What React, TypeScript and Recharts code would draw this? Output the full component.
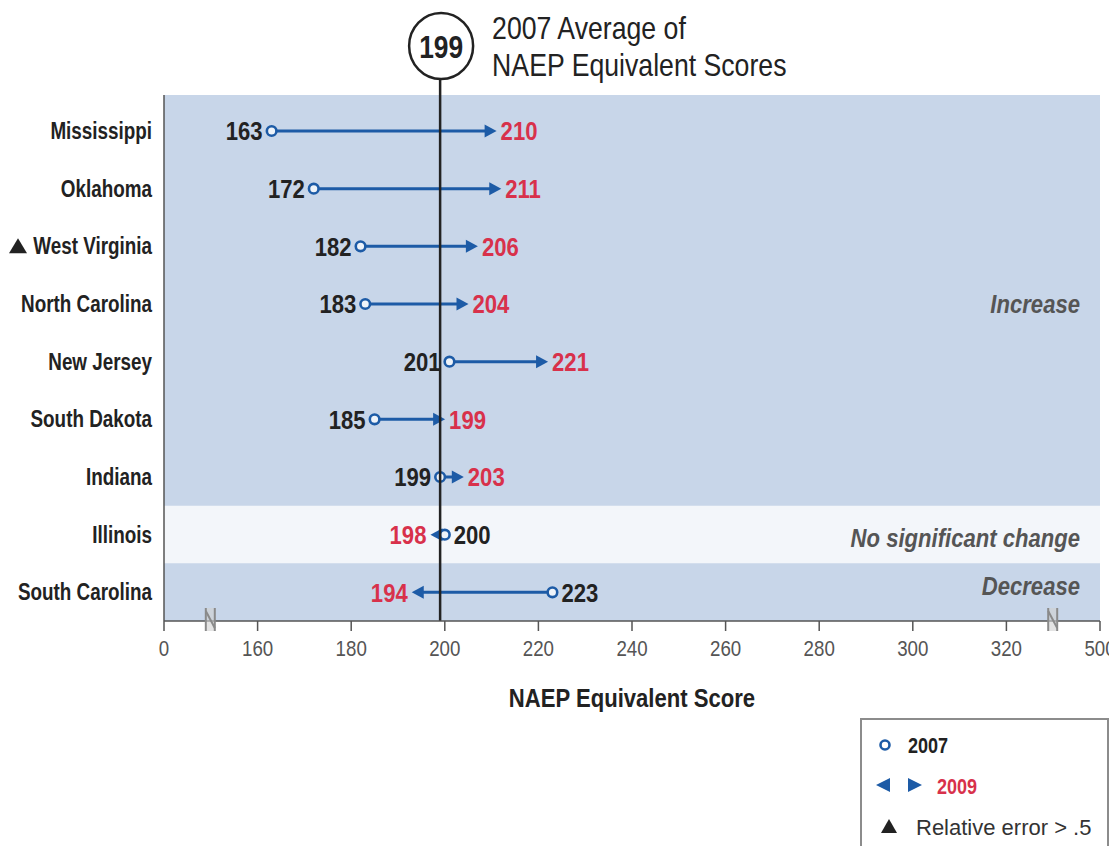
import React from 'react';
import {
  ComposedChart, Bar, XAxis, YAxis, CartesianGrid, ReferenceLine, ReferenceArea,
} from 'recharts';

const states = ['Mississippi', 'Oklahoma', 'West Virginia', 'North Carolina', 'New Jersey', 'South Dakota', 'Indiana', 'Illinois', 'South Carolina'];
const scores2007 = [163, 172, 182, 183, 201, 185, 199, 200, 223];
const scores2009 = [210, 211, 206, 204, 221, 199, 203, 198, 194];
const relErrorFlag = [false, false, true, false, false, false, false, false, false];
const avg2007 = 199;
const xTicks = [140, 150, 160, 180, 200, 220, 240, 260, 280, 300, 320, 330, 340];
const tickLabels: Record<number, string> = { 140: '0', 160: '160', 180: '180', 200: '200', 220: '220', 240: '240', 260: '260', 280: '280', 300: '300', 320: '320', 340: '500' };
const breakTicks = [150, 330];

const data = states.map((s, i) => ({
  state: s,
  y2007: scores2007[i],
  y2009: scores2009[i],
  flag: relErrorFlag[i],
  range: [Math.min(scores2007[i], scores2009[i]), Math.max(scores2007[i], scores2009[i])],
}));

const FONT = "'Liberation Sans', Arial, sans-serif";
const BLUE = '#1d5ba6';
const RED = '#d8314b';
const DARK = '#222222';
const GRAY = '#555555';
const BAND = '#c8d6e9';
const LIGHT = '#f3f6fa';

// Condensed text: horizontally squeezed to mimic a narrow typeface
const NText = ({ x, y, anchor = 'start', size, bold = false, italic = false, fill, sx = 0.85, children }: any) => (
  <text
    transform={`translate(${x},${y}) scale(${sx},1)`}
    x={0}
    y={0}
    dy="0.36em"
    textAnchor={anchor}
    fontFamily={FONT}
    fontWeight={bold ? 'bold' : 'normal'}
    fontStyle={italic ? 'italic' : 'normal'}
    fontSize={size}
    fill={fill}
  >
    {children}
  </text>
);

const ArrowShape = (props: any) => {
  const { x, y, width, height, payload } = props;
  const cy = y + height / 2;
  const inc = payload.y2009 >= payload.y2007;
  const dir = inc ? 1 : -1;
  const x07 = inc ? x : x + width;
  const x09 = inc ? x + width : x;
  const tip = x09 + dir * 5;
  const headLen = 12;
  const base = tip - dir * headLen;
  return (
    <g>
      <line x1={x07 + dir * 5} y1={cy} x2={base + dir * 1} y2={cy} stroke={BLUE} strokeWidth={3} />
      <polygon points={`${tip},${cy} ${base},${cy - 6.5} ${base},${cy + 6.5}`} fill={BLUE} />
      <circle cx={x07} cy={cy} r={4.8} fill="#eef3f9" stroke={BLUE} strokeWidth={2.6} />
      <NText x={x07 - dir * 9} y={cy} anchor={inc ? 'end' : 'start'} size={26} bold fill={DARK}>{payload.y2007}</NText>
      <NText x={tip + dir * 4} y={cy} anchor={inc ? 'start' : 'end'} size={26} bold fill={RED}>{payload.y2009}</NText>
    </g>
  );
};

const YTick = (props: any) => {
  const { x, y, payload } = props;
  const flagged = relErrorFlag[states.indexOf(payload.value)];
  return (
    <g>
      {flagged && (
        <polygon points={`${1},${y + 7} ${10},${y - 8} ${19},${y + 7}`} fill={DARK} />
      )}
      <NText x={x} y={y} anchor="end" size={23} bold fill={DARK} sx={0.82}>{payload.value}</NText>
    </g>
  );
};

const XTick = (props: any) => {
  const { x, y, payload } = props;
  const v = payload.value;
  if (breakTicks.includes(v)) {
    return (
      <g stroke="#8a8a8a" strokeWidth={2} fill="none">
        <rect x={x - 5} y={y - 13} width={9} height={23} fill="#d0d0d0" stroke="none" opacity={0.6} />
        <line x1={x - 5} y1={y - 13} x2={x - 5} y2={y + 10} />
        <line x1={x + 4} y1={y - 13} x2={x + 4} y2={y + 10} />
        <line x1={x - 5} y1={y - 10} x2={x + 4} y2={y + 7} />
      </g>
    );
  }
  return (
    <g>
      <line x1={x} y1={y} x2={x} y2={y + 10} stroke={GRAY} strokeWidth={1.5} />
      <NText x={x} y={y + 27} anchor="middle" size={22} fill={GRAY}>{tickLabels[v]}</NText>
    </g>
  );
};

const AvgLabel = (props: any) => {
  const { viewBox } = props;
  const cx = viewBox.x;
  const top = viewBox.y;
  const cyc = top - 49;
  return (
    <g>
      <line x1={cx} y1={cyc + 33} x2={cx} y2={top} stroke={DARK} strokeWidth={2.5} />
      <ellipse cx={cx + 1} cy={cyc} rx={32} ry={33} fill="#ffffff" stroke={DARK} strokeWidth={2.5} />
      <NText x={cx + 1} y={cyc + 1} anchor="middle" size={31} bold fill={DARK}>{avg2007}</NText>
      <NText x={cx + 52} y={cyc - 18} size={31} fill={DARK} sx={0.86}>2007 Average of</NText>
      <NText x={cx + 52} y={cyc + 19} size={31} fill={DARK} sx={0.86}>NAEP Equivalent Scores</NText>
    </g>
  );
};

const bandLabel = (text: string, dyShift: number) => (props: any) => {
  const { viewBox } = props;
  return (
    <NText x={viewBox.x + viewBox.width - 20} y={viewBox.y + viewBox.height / 2 + dyShift} anchor="end"
      size={26} bold italic fill={GRAY}>{text}</NText>
  );
};

const AxisTitle = (props: any) => {
  const { viewBox } = props;
  return (
    <NText x={viewBox.x + viewBox.width / 2} y={viewBox.y + 77} anchor="middle" size={26} bold fill={DARK}>
      NAEP Equivalent Score
    </NText>
  );
};

const LegendBox = () => (
  <div style={{
    position: 'absolute', left: 852, top: 710, width: 249, height: 150,
    border: '2px solid #8c8c8c', background: '#fff', boxSizing: 'border-box',
  }}>
    <svg width={249} height={150} style={{ position: 'absolute', left: -2, top: -2 }}>
      <circle cx={25} cy={27} r={4.5} fill="#fff" stroke={BLUE} strokeWidth={2.6} />
      <NText x={48} y={27} size={22} bold fill={DARK} sx={0.82}>2007</NText>
      <polygon points="16,67 30,60 30,74" fill={BLUE} />
      <polygon points="62,67 48,60 48,74" fill={BLUE} />
      <NText x={77} y={68} size={22} bold fill={RED} sx={0.82}>2009</NText>
      <polygon points="21,115 29,101 37,115" fill={DARK} />
      <text x={56} y={109} dy="0.36em" fontFamily={FONT} fontSize={22} fill="#333">Relative error &gt; .5</text>
    </svg>
  </div>
);

export default function App() {
  return (
    <div style={{ position: 'relative', width: 1109, height: 838, overflow: 'hidden' }}>
      <ComposedChart
        width={1109}
        height={838}
        data={data}
        layout="vertical"
        margin={{ top: 87, right: 17, bottom: 135, left: 0 }}
      >
        <CartesianGrid horizontal={false} vertical={false} fill={BAND} fillOpacity={1} />
        <ReferenceArea y1="Illinois" y2="Illinois" fill={LIGHT} fillOpacity={1} stroke="none"
          label={bandLabel('No significant change', 3)} />
        <ReferenceArea y1="Mississippi" y2="Indiana" fill="none" fillOpacity={0} stroke="none"
          label={bandLabel('Increase', 0)} />
        <ReferenceArea y1="South Carolina" y2="South Carolina" fill="none" fillOpacity={0} stroke="none"
          label={bandLabel('Decrease', -7)} />
        <XAxis
          type="number"
          domain={[140, 340]}
          allowDataOverflow
          ticks={xTicks}
          interval={0}
          tick={<XTick />}
          tickLine={false}
          tickSize={0}
          tickMargin={0}
          axisLine={{ stroke: GRAY, strokeWidth: 1.5 }}
          height={90}
          label={<AxisTitle />}
        />
        <YAxis
          type="category"
          dataKey="state"
          width={156}
          padding={{ top: 7, bottom: 0 }}
          tick={<YTick />}
          tickLine={false}
          tickSize={0}
          tickMargin={12}
          interval={0}
          axisLine={{ stroke: GRAY, strokeWidth: 1.5 }}
        />
        <ReferenceLine x={avg2007} stroke={DARK} strokeWidth={2.5} label={<AvgLabel />} />
        <Bar dataKey="range" barSize={20} shape={<ArrowShape />} isAnimationActive={false} />
      </ComposedChart>
      <LegendBox />
    </div>
  );
}
